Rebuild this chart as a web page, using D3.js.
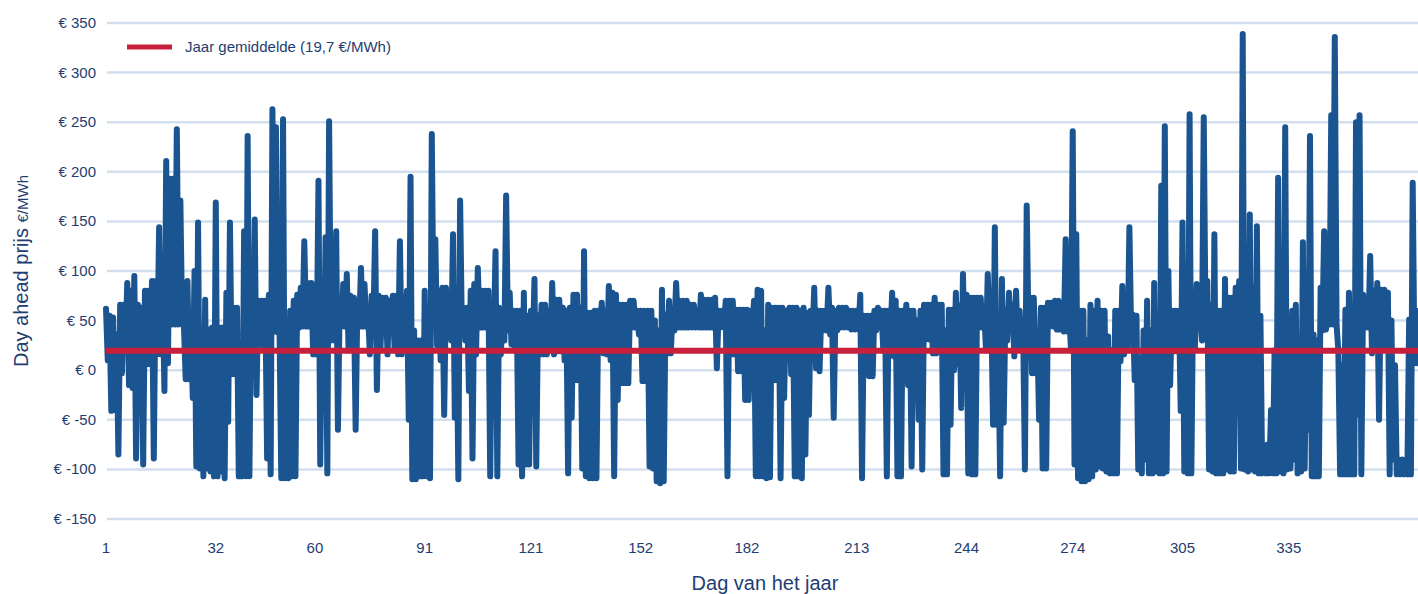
<!DOCTYPE html>
<html>
<head>
<meta charset="utf-8">
<script src="https://cdn.jsdelivr.net/npm/d3@7"></script>
<style>
  body { margin: 0; background: #fff; }
  svg { display: block; font-family: "Liberation Sans", Arial, sans-serif; }
</style>
</head>
<body>
<svg id="chart" width="1418" height="594"></svg>
<script>
var hoog = [62,55,53,36,66,66,88,80,95,66, 63,80,80,90,90,144,80,211,193,193,
  243,171,46,90,44,100,149,43,71,41, 43,169,43,43,78,149,63,63,10,140,
  236,90,152,70,70,70,76,263,245,40, 253,40,60,70,76,83,130,88,88,73,
  191,61,134,251,60,140,70,87,97,75, 73,70,103,87,60,75,140,75,73,73,
  70,75,75,130,73,80,195,40,30,30, 80,63,238,132,80,83,83,75,137,60,
  171,63,63,80,87,103,80,80,80,63, 120,63,60,176,78,60,60,60,78,55,
  60,92,55,66,66,60,88,71,71,63, 60,63,76,76,63,120,58,58,60,60,
  68,60,85,78,76,66,66,66,70,70, 60,60,60,60,60,50,40,81,56,70,
  60,88,70,70,70,66,66,60,76,71, 71,71,73,60,60,70,70,70,61,61,
  61,61,60,70,81,80,40,66,63,63, 63,63,60,63,63,63,60,63,58,60,
  83,60,60,60,83,63,60,63,63,63, 60,60,60,76,55,55,55,60,63,60,
  60,60,78,70,60,60,66,60,60,50, 60,66,66,66,73,66,66,40,61,61,
  78,65,97,76,73,73,73,73,60,97, 60,144,20,92,60,78,66,80,60,40,
  166,73,73,34,63,63,68,68,70,70, 66,132,60,241,137,60,60,30,66,60,
  70,60,60,34,20,60,60,85,60,144, 56,55,12,40,70,40,88,50,186,246,
  100,60,60,60,149,60,258,78,87,60, 255,90,66,137,60,60,92,73,73,83,
  90,339,60,157,83,145,55,-80,-75,-40, 20,194,5,245,53,60,66,23,129,50,
  236,36,30,83,140,66,257,336,20,5, 61,78,6,250,257,76,71,115,80,88,
  81,81,78,50,5,-90,-90,-90,51,189, 60];
var laag = [10,-41,-40,-85,-3,22,-15,-18,-89,6, -95,6,6,-89,16,16,-21,7,46,46,
  46,48,-9,-9,-28,-97,-99,-107,-99,-102, -107,-107,-102,-109,-52,-4,-4,-107,-107,-107,
  -107,20,-25,46,22,-89,-105,39,38,-109, -109,-109,-107,-107,43,44,44,44,16,16,
  -95,-25,-104,30,30,-60,44,44,20,44, -60,44,44,44,16,44,-20,20,44,16,
  44,20,16,16,44,-50,-110,-110,-107,-107, -107,-109,45,25,10,-45,33,30,-48,-110,
  40,30,-21,-89,16,43,43,43,-107,30, -107,16,30,40,26,20,-95,-107,-95,-95,
  20,-97,16,16,16,20,16,19,19,10, -104,-48,-10,-10,-99,-107,-109,-109,-109,34,
  17,16,10,-107,-30,-13,-13,-13,43,43, 36,-11,-11,-97,-99,-112,-114,-112,17,17,
  40,43,43,43,43,43,43,43,43,43, 43,43,2,43,43,-107,16,16,-1,-1,
  -30,-30,40,-107,-107,-107,-109,-108,-10,-10, -109,-28,40,-4,-107,-107,-109,-85,-45,30,
  2,-1,40,40,36,-48,40,43,43,43, 41,41,41,-109,-4,-6,-6,40,43,20,
  -107,30,14,-107,-107,20,-15,-97,10,-50, -100,31,31,17,17,46,-105,-105,-55,0,
  6,-38,2,-104,-105,-105,43,43,20,43, -55,-55,-107,-53,30,43,14,22,20,-100,
  43,-3,-3,-50,-99,-99,44,44,41,41, 39,39,20,-95,-109,-112,-112,-110,-107,-100,
  -97,-99,-102,-104,-104,-104,9,16,20,36, -10,-100,-104,-90,-104,-104,-102,-104,-104,-102,
  -15,19,19,-41,-102,-104,-104,22,45,30, 45,-100,-102,-104,-104,-104,-100,-102,-102,16,
  -99,-100,-102,-100,-102,-104,-104,-104,-104,-104, -104,-102,-104,-100,-99,-90,-104,-102,-99,-60,
  -107,-107,-107,40,41,46,46,46,-105,-105, -105,-105,-105,-45,-105,43,43,17,29,-50,
  22,22,-105,-90,-105,-105,-105,-105,-105,7, 7];

var jaarGemiddelde = 19.7;
var yTicks = [-150, -100, -50, 0, 50, 100, 150, 200, 250, 300, 350];
var xTicks = [1, 32, 60, 91, 121, 152, 182, 213, 244, 274, 305, 335];

function drawChart() {
  var svg = d3.select("#chart");
  var plotLinks = 106, plotRechts = 1418, plotBoven = 23, plotOnder = 519;
  var tekstKleur = "#1f3d72";

  var x = d3.scaleLinear().domain([1, 371.5]).range([plotLinks, plotRechts]);
  var y = d3.scaleLinear().domain([-150, 350]).range([plotOnder, plotBoven]);

  // rasterlijnen
  svg.append("g")
    .selectAll("line")
    .data(yTicks)
    .enter()
    .append("line")
    .attr("x1", plotLinks + 1)
    .attr("x2", plotRechts)
    .attr("y1", function(d) { return y(d); })
    .attr("y2", function(d) { return y(d); })
    .attr("stroke", "#d2dfef")
    .attr("stroke-width", 2.5);

  // y-as labels
  svg.append("g")
    .selectAll("text")
    .data(yTicks)
    .enter()
    .append("text")
    .attr("x", 96)
    .attr("y", function(d) { return y(d) + 5; })
    .attr("text-anchor", "end")
    .attr("font-size", 15)
    .attr("fill", tekstKleur)
    .text(function(d) { return "€ " + d; });

  // x-as labels
  svg.append("g")
    .selectAll("text")
    .data(xTicks)
    .enter()
    .append("text")
    .attr("x", function(d) { return x(d); })
    .attr("y", 553)
    .attr("text-anchor", "middle")
    .attr("font-size", 15)
    .attr("fill", tekstKleur)
    .text(function(d) { return d; });

  // punten: per dag eerst hoogste, dan laagste prijs
  var punten = [];
  for (var i = 0; i < hoog.length; i++) {
    punten.push([i + 1, hoog[i]]);
    punten.push([i + 1.5, laag[i]]);
  }

  var lijn = d3.line()
    .x(function(d) { return x(d[0]); })
    .y(function(d) { return y(d[1]); });

  svg.append("path")
    .datum(punten)
    .attr("d", lijn)
    .attr("fill", "none")
    .attr("stroke", "#1b5591")
    .attr("stroke-width", 6)
    .attr("stroke-linejoin", "round")
    .attr("stroke-linecap", "round");

  // jaargemiddelde
  svg.append("line")
    .attr("x1", plotLinks)
    .attr("x2", plotRechts)
    .attr("y1", y(jaarGemiddelde))
    .attr("y2", y(jaarGemiddelde))
    .attr("stroke", "#c8203c")
    .attr("stroke-width", 6);

  // legenda
  svg.append("line")
    .attr("x1", 127).attr("x2", 172)
    .attr("y1", 47).attr("y2", 47)
    .attr("stroke", "#c8203c")
    .attr("stroke-width", 5);
  svg.append("text")
    .attr("x", 185)
    .attr("y", 52)
    .attr("font-size", 15)
    .attr("fill", tekstKleur)
    .text("Jaar gemiddelde (19,7 €/MWh)");

  // astitels
  var yTitel = svg.append("text")
    .attr("transform", "translate(28,271) rotate(-90)")
    .attr("text-anchor", "middle")
    .attr("fill", tekstKleur);
  yTitel.append("tspan").attr("font-size", 20).text("Day ahead prijs ");
  yTitel.append("tspan").attr("font-size", 15).text("€/MWh");

  svg.append("text")
    .attr("x", 765)
    .attr("y", 590)
    .attr("text-anchor", "middle")
    .attr("font-size", 20)
    .attr("fill", tekstKleur)
    .text("Dag van het jaar");
}

drawChart();
</script>
</body>
</html>
